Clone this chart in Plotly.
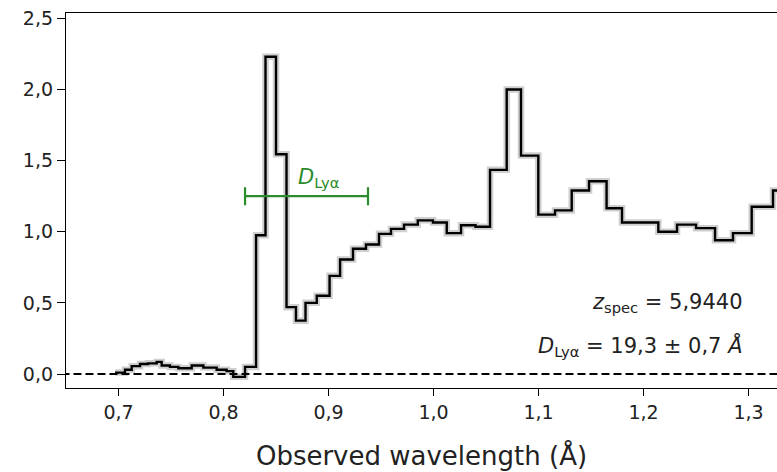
import plotly.graph_objects as go

# Bin edges (observed wavelength) and flux values of the step spectrum
bin_edges = [0.6967, 0.7062, 0.7126, 0.7205, 0.7281, 0.7364, 0.7411, 0.7490, 0.7570, 0.7697,
             0.7808, 0.7935, 0.8030, 0.8093, 0.8205, 0.8310, 0.8400, 0.8500, 0.8600, 0.8690,
             0.8781, 0.8888, 0.9010, 0.9110, 0.9233, 0.9357, 0.9481, 0.9595, 0.9719, 0.9850,
             0.9995, 1.0126, 1.0262, 1.0400, 1.0538, 1.0697, 1.0833, 1.0998, 1.1157, 1.1316,
             1.1481, 1.1648, 1.1795, 1.1967, 1.2141, 1.2319, 1.2500, 1.2681, 1.2852, 1.3030,
             1.3233, 1.3490]
flux = [0.01, 0.03, 0.055, 0.07, 0.075, 0.085, 0.06, 0.05, 0.04, 0.06,
        0.045, 0.03, 0.02, -0.02, 0.05, 0.975, 2.23, 1.545, 0.47, 0.375,
        0.50, 0.55, 0.69, 0.805, 0.88, 0.91, 0.985, 1.02, 1.05, 1.08,
        1.065, 0.99, 1.045, 1.035, 1.435, 2.0, 1.535, 1.12, 1.15, 1.29,
        1.355, 1.165, 1.065, 1.065, 1.0, 1.05, 1.025, 0.94, 0.99, 1.175,
        1.29]

# D_Lya bar
dlya_lo = 0.8205
dlya_hi = 0.9376
dlya_y = 1.25

z_spec_text = "5,9440"
dlya_text = "19,3 ± 0,7"

x_ticks = [0.7, 0.8, 0.9, 1.0, 1.1, 1.2, 1.3]
y_ticks = [0.0, 0.5, 1.0, 1.5, 2.0, 2.5]

step_y = flux + [flux[-1]]

FONT = "DejaVu Sans"
fig = go.Figure()

# grey error shading
fig.add_trace(go.Scatter(x=bin_edges, y=step_y, mode="lines", line_shape="hv",
                         line=dict(color="rgba(195,195,195,0.8)", width=6.5),
                         hoverinfo="skip", showlegend=False))
# zero line
fig.add_trace(go.Scatter(x=[0.60, 1.40], y=[0, 0], mode="lines",
                         line=dict(color="black", width=2, dash="8px,4px"),
                         showlegend=False))
# spectrum
fig.add_trace(go.Scatter(x=bin_edges, y=step_y, mode="lines", line_shape="hv",
                         line=dict(color="black", width=2.4), showlegend=False))
# D_Lya bar
green = "#2a8c2a"
fig.add_trace(go.Scatter(x=[(dlya_lo + dlya_hi) / 2], y=[dlya_y], mode="markers",
                         marker=dict(size=1, color="rgba(0,0,0,0)"),
                         error_x=dict(type="data", array=[(dlya_hi - dlya_lo) / 2],
                                      color=green, thickness=2.2, width=9),
                         showlegend=False))

fig.add_annotation(x=0.8695, y=dlya_y, xref="x", yref="y", xanchor="left", yanchor="bottom",
                   yshift=3, showarrow=False,
                   text="<i>D</i><sub>Lyα</sub>",
                   font=dict(family=FONT, size=21, color=green))

fig.add_annotation(x=1.2967, y=0.50, xref="x", yref="y", xanchor="right", yanchor="middle",
                   showarrow=False,
                   text="<i>z</i><sub>spec</sub> = " + z_spec_text,
                   font=dict(family=FONT, size=21, color="#222"))
fig.add_annotation(x=1.2967, y=0.195, xref="x", yref="y", xanchor="right", yanchor="middle",
                   showarrow=False,
                   text="<i>D</i><sub>Lyα</sub> = " + dlya_text + " <i>Å</i>",
                   font=dict(family=FONT, size=21, color="#222"))

fig.update_layout(
    width=777, height=472,
    margin=dict(l=66, r=0, t=13, b=84),
    paper_bgcolor="white", plot_bgcolor="white",
    separators=",.",
    font=dict(family=FONT, size=19, color="#222"),
    showlegend=False,
)
fig.update_xaxes(range=[0.65, 1.3271], tickvals=x_ticks, tickformat=".1f",
                 showgrid=False, zeroline=False,
                 showline=True, linecolor="black", linewidth=1.3, mirror=True,
                 ticks="outside", ticklen=7, tickwidth=1.3, tickcolor="black",
                 title=dict(text="Observed wavelength (Å)", font=dict(size=26, family=FONT),
                            standoff=24))
fig.update_yaxes(range=[-0.0984, 2.5373], tickvals=y_ticks, tickformat=".1f",
                 showgrid=False, zeroline=False,
                 showline=True, linecolor="black", linewidth=1.3, mirror=False,
                 ticks="outside", ticklen=8, tickwidth=1.3, tickcolor="black")

fig.write_html("out.html")
